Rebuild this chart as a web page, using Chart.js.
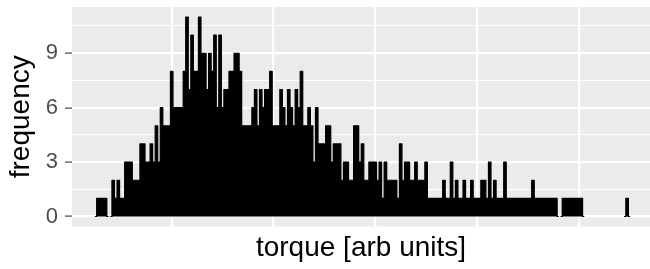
<!DOCTYPE html>
<html>
<head>
<meta charset="utf-8">
<script src="https://cdn.jsdelivr.net/npm/chart.js@4/dist/chart.umd.min.js"></script>
<style>
  html, body { margin: 0; padding: 0; background: #fff; }
  #wrap { width: 650px; height: 269px; }
</style>
</head>
<body>
<div id="wrap"><canvas id="chart" width="650" height="269"></canvas></div>
<script>
"use strict";

// Histogram of torque: centre of the first bin and the bin width (arb units).
const BIN_START = 25;
const BIN_WIDTH = 2.5;
// Counts per bin, left to right.
const COUNTS = [
  0,
  1, 1, 1, 1, 0, 0, 2, 1, 2, 1,
  1, 3, 3, 3, 2, 2, 2, 4, 4, 3,
  3, 4, 3, 5, 3, 6, 5, 5, 5, 8,
  6, 6, 6, 6, 8, 11, 7, 10, 8, 8,
  11, 9, 9, 7, 9, 8, 10, 6, 10, 6,
  7, 7, 8, 8, 9, 9, 8, 5, 5, 5,
  5, 6, 7, 5, 7, 6, 7, 7, 8, 5,
  5, 5, 7, 6, 5, 7, 6, 5, 7, 6,
  8, 5, 5, 6, 5, 3, 6, 4, 4, 4,
  5, 5, 3, 4, 4, 4, 2, 3, 3, 2,
  2, 5, 5, 3, 4, 2, 2, 3, 3, 3,
  2, 3, 1, 3, 2, 2, 2, 2, 1, 4,
  2, 3, 3, 2, 2, 3, 2, 2, 2, 3,
  1, 1, 1, 1, 1, 1, 2, 1, 1, 3,
  1, 2, 1, 1, 2, 1, 1, 2, 1, 1,
  1, 2, 2, 1, 3, 1, 2, 1, 1, 1,
  3, 1, 1, 1, 1, 1, 1, 1, 1, 1,
  1, 2, 1, 1, 1, 1, 1, 1, 1, 1,
  1, 0, 0, 1, 1, 1, 1, 1, 1, 1,
  1, 0, 0, 0, 0, 0, 0, 0, 0, 0,
  0, 0, 0, 0, 0, 0, 0, 0, 1,
  0,
];

const X_LIMITS = [2, 570];
const X_BREAKS = [100, 200, 300, 400, 500];
const Y_LIMITS = [-0.55, 11.55];
const Y_BREAKS = [0, 3, 6, 9];
const Y_MINOR = [1.5, 4.5, 7.5, 10.5];

const FONT = "'Liberation Sans', Arial, Helvetica, sans-serif";

const points = COUNTS.map((n, i) => ({ x: BIN_START + i * BIN_WIDTH, y: n }));

// grey ggplot-style panel behind the grid
const panelBg = {
  id: "panelBg",
  beforeDraw(chart) {
    const { ctx, chartArea: a } = chart;
    ctx.save();
    ctx.fillStyle = "#EBEBEB";
    ctx.fillRect(a.left, a.top, a.right - a.left, a.bottom - a.top);
    ctx.restore();
  },
};

const isMajorY = (ctx) => ctx.tick && Y_BREAKS.includes(ctx.tick.value);

new Chart(document.getElementById("chart"), {
  type: "line",
  data: {
    datasets: [{
      data: points,
      stepped: "middle",
      fill: "origin",
      backgroundColor: "#000",
      borderColor: "#000",
      borderWidth: 1.2,
      borderJoinStyle: "round",
      borderCapStyle: "round",
      pointRadius: 0,
      segment: {
        borderColor: (c) => (c.p0.parsed.y === 0 && c.p1.parsed.y === 0 ? "transparent" : undefined),
      },
    }],
  },
  options: {
    responsive: false,
    animation: false,
    events: [],
    layout: { padding: { top: 7, right: 0, bottom: 0, left: 0 }, autoPadding: false },
    plugins: { legend: { display: false }, tooltip: { enabled: false } },
    scales: {
      x: {
        type: "linear",
        min: X_LIMITS[0],
        max: X_LIMITS[1],
        afterBuildTicks: (s) => { s.ticks = X_BREAKS.map((v) => ({ value: v })); },
        afterFit: (s) => { s.height = 42.5; s.paddingLeft = 0; s.paddingRight = 0; },
        ticks: { display: false },
        grid: { color: "#fff", lineWidth: 2.2, drawTicks: false },
        border: { display: false },
        title: {
          display: true,
          text: "torque [arb units]",
          color: "#000",
          font: { family: FONT, size: 28, lineHeight: 1.2 },
          padding: { top: 0, bottom: 4.4 },
        },
      },
      y: {
        type: "linear",
        min: Y_LIMITS[0],
        max: Y_LIMITS[1],
        afterBuildTicks: (s) => {
          s.ticks = [...Y_BREAKS, ...Y_MINOR].sort((a, b) => a - b).map((v) => ({ value: v }));
        },
        afterFit: (s) => { s.width = 72; s.paddingTop = 0; s.paddingBottom = 0; },
        ticks: {
          autoSkip: false,
          padding: 7,
          color: "#4D4D4D",
          font: { family: FONT, size: 22 },
          callback: (v) => (Y_BREAKS.includes(v) ? String(v) : ""),
        },
        grid: {
          color: "#fff",
          lineWidth: (c) => (isMajorY(c) ? 2.2 : 1.1),
          tickLength: 7,
          tickWidth: 1.1,
          tickColor: (c) => (isMajorY(c) ? "#333333" : "transparent"),
        },
        border: { display: false },
        title: {
          display: true,
          text: "frequency",
          color: "#000",
          font: { family: FONT, size: 28, lineHeight: 1.2 },
          padding: { top: 4.4, bottom: 0 },
        },
      },
    },
  },
  plugins: [panelBg],
});
</script>
</body>
</html>
